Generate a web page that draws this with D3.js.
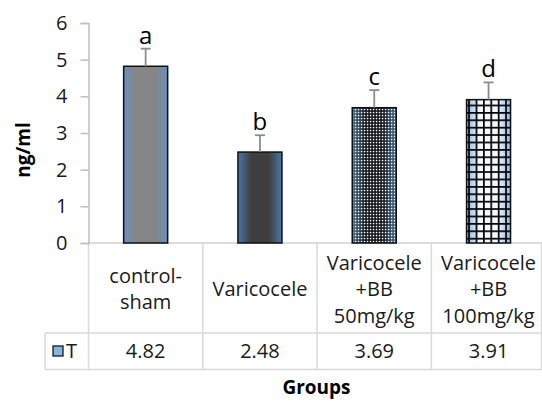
<!DOCTYPE html>
<html><head><meta charset="utf-8">
<script src="https://cdn.jsdelivr.net/npm/d3@7"></script>
<style>html,body{margin:0;padding:0;background:#fff;}svg{display:block;font-family:"Open Sans",sans-serif;}</style>
</head><body>
<svg id="c" width="542" height="404"></svg>
<script>
const categories = ["control-sham", "Varicocele", "Varicocele +BB 50mg/kg", "Varicocele +BB 100mg/kg"];
const categoryLines = [["control-", "sham"], ["Varicocele"], ["Varicocele", "+BB", "50mg/kg"], ["Varicocele", "+BB", "100mg/kg"]];
const values = [4.82, 2.48, 3.69, 3.91];
const errors = [0.48, 0.46, 0.48, 0.47];
const letters = ["a", "b", "c", "d"];
const yTicks = [0, 1, 2, 3, 4, 5, 6];
const seriesName = "T";
const yTitle = "ng/ml";
const xTitle = "Groups";

const svg = d3.select("#c");
const x0 = 88.5, x1 = 545.7, yTop = 23, yBase = 243;
const rowH = 333, rowV = 369.5, legLeft = 45;
const x = d3.scaleBand().domain(categories).range([x0, x1]).padding(0);
const y = d3.scaleLinear().domain([0, 6]).range([yBase, yTop]);
const bw = x.bandwidth() * 0.385;
const fs = 20;

const defs = svg.append("defs");
function hgrad(id, edge, center) {
  const g = defs.append("linearGradient").attr("id", id).attr("x1", 0).attr("x2", 1).attr("y1", 0).attr("y2", 0);
  [[0, edge], [0.3, center], [0.7, center], [1, edge]].forEach(([o, c]) => g.append("stop").attr("offset", o).attr("stop-color", c));
}
hgrad("g0", "#6b8fbb", "#858585");
hgrad("g1", "#4b77a8", "#3e3e3e");
hgrad("g2", "#3c6796", "#0c0f16");
hgrad("g3", "#8fb6e2", "#f4f8fc");
const pDots = defs.append("pattern").attr("id", "pd").attr("patternUnits", "userSpaceOnUse").attr("width", 3).attr("height", 3);
pDots.append("rect").attr("x", 0.8).attr("y", 0.8).attr("width", 1.5).attr("height", 1.5).attr("fill", "#ffffff");
const pGrid = defs.append("pattern").attr("id", "pg").attr("patternUnits", "userSpaceOnUse").attr("width", 7.4).attr("height", 7.4).attr("x", 2).attr("y", 1);
pGrid.append("rect").attr("x", 0).attr("y", 0).attr("width", 1.7).attr("height", 7.4).attr("fill", "#000");
pGrid.append("rect").attr("x", 0).attr("y", 0).attr("width", 7.4).attr("height", 1.7).attr("fill", "#000");
const overlays = [null, null, "url(#pd)", "url(#pg)"];

// table lines
const lineC = "#d9d9d9";
const tl = svg.append("g").attr("stroke", lineC).attr("stroke-width", 1.5);
tl.append("line").attr("x1", x0).attr("x2", 542).attr("y1", yBase).attr("y2", yBase).attr("stroke", "#d0d0d0");
tl.append("line").attr("x1", legLeft).attr("x2", 542).attr("y1", rowH).attr("y2", rowH);
tl.append("line").attr("x1", legLeft).attr("x2", 542).attr("y1", rowV).attr("y2", rowV);
tl.append("line").attr("x1", legLeft).attr("x2", legLeft).attr("y1", rowH).attr("y2", rowV);
categories.forEach(c => {
  tl.append("line").attr("x1", x(c)).attr("x2", x(c)).attr("y1", yBase).attr("y2", rowV);
});
tl.append("line").attr("x1", 541.5).attr("x2", 541.5).attr("y1", yBase).attr("y2", rowV);

// y axis
const ax = svg.append("g").attr("transform", `translate(${x0},0)`)
  .call(d3.axisLeft(y).tickValues(yTicks).tickSize(8).tickPadding(13).tickFormat(d3.format("d")));
ax.select(".domain").attr("stroke", "#bfbfbf").attr("stroke-width", 1.5);
ax.selectAll(".tick line").attr("stroke", "#bfbfbf").attr("stroke-width", 1.5);
ax.selectAll(".tick text").attr("font-size", fs).attr("fill", "#1a1a1a").attr("font-family", "Open Sans");

// bars
const bars = svg.append("g");
categories.forEach((c, i) => {
  const bx = x(c) + x.bandwidth() / 2 - bw / 2;
  const by = y(values[i]);
  bars.append("rect").attr("x", bx).attr("y", by).attr("width", bw).attr("height", yBase - by).attr("fill", `url(#g${i})`);
  if (overlays[i]) bars.append("rect").attr("x", bx).attr("y", by).attr("width", bw).attr("height", yBase - by).attr("fill", overlays[i]);
  bars.append("rect").attr("x", bx).attr("y", by).attr("width", bw).attr("height", yBase - by)
    .attr("fill", "none").attr("stroke", "#111").attr("stroke-width", 1.5);
  const cx = x(c) + x.bandwidth() / 2;
  const ey = y(values[i] + errors[i]);
  bars.append("line").attr("x1", cx).attr("x2", cx).attr("y1", by).attr("y2", ey).attr("stroke", "#8c8c8c").attr("stroke-width", 1.8);
  bars.append("line").attr("x1", cx - 5).attr("x2", cx + 5).attr("y1", ey).attr("y2", ey).attr("stroke", "#8c8c8c").attr("stroke-width", 1.8);
  bars.append("text").attr("x", cx).attr("y", ey - 5).attr("text-anchor", "middle").attr("font-size", 24).attr("fill", "#000").text(letters[i]);
});

// table header text
categories.forEach((c, i) => {
  const cx = x(c) + x.bandwidth() / 2;
  const lines = categoryLines[i];
  const lh = 26.5;
  const mid = 289;
  const t = svg.append("text").attr("text-anchor", "middle").attr("font-size", fs).attr("fill", "#1a1a1a");
  lines.forEach((l, k) => {
    t.append("tspan").attr("x", cx).attr("y", mid + (k - (lines.length - 1) / 2) * lh).attr("dy", "0.35em").text(l);
  });
  svg.append("text").attr("x", cx).attr("y", (rowH + rowV) / 2).attr("dy", "0.35em").attr("text-anchor", "middle")
    .attr("font-size", fs).attr("fill", "#1a1a1a").text(d3.format(".2f")(values[i]));
});

// legend
svg.append("rect").attr("x", 53).attr("y", 346).attr("width", 10).attr("height", 10)
  .attr("fill", "#86b6e0").attr("stroke", "#1a1a1a").attr("stroke-width", 1.3);
svg.append("text").attr("x", 66).attr("y", (rowH + rowV) / 2).attr("dy", "0.35em").attr("font-size", fs).attr("fill", "#1a1a1a").text(seriesName);

// titles
svg.append("text").attr("transform", `translate(30,150) rotate(-90)`).attr("text-anchor", "middle")
  .attr("font-size", 19).attr("font-weight", "bold").attr("fill", "#000").text(yTitle);
svg.append("text").attr("x", 316.5).attr("y", 394).attr("text-anchor", "middle")
  .attr("font-size", 19).attr("font-weight", "bold").attr("fill", "#000").text(xTitle);
</script>
</body></html>
